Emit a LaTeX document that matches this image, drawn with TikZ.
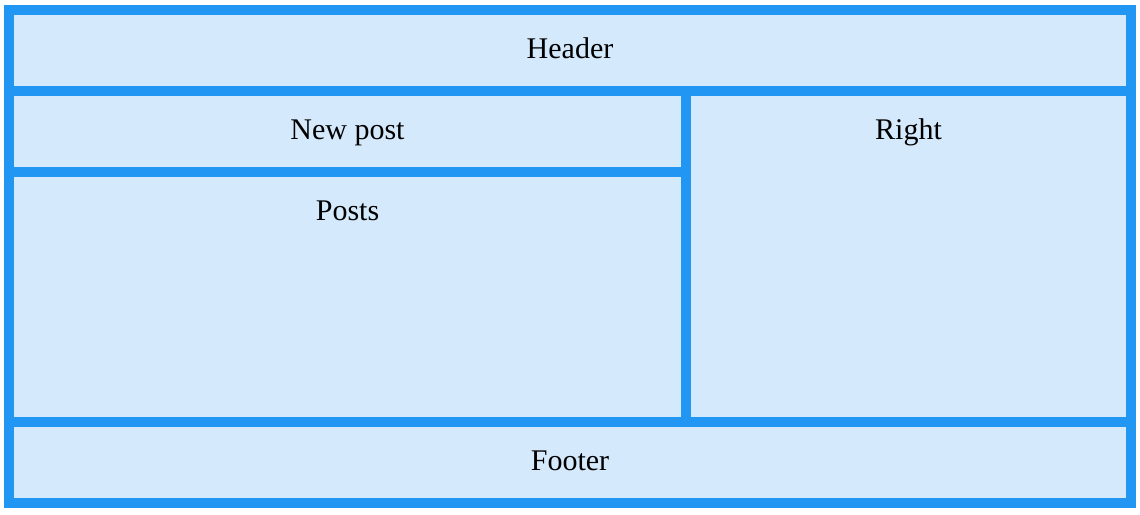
\documentclass[tikz,border=0pt]{standalone}
\usepackage{fontspec}
\setmainfont{Liberation Serif}
\usepackage{xcolor}
\usepackage{tikz}
\usetikzlibrary{positioning}

\definecolor{frameblue}{HTML}{2196F3}
\definecolor{paneblue}{HTML}{D4E9FC}

\begin{document}
\begin{tikzpicture}[
    x=1pt, y=-1pt,
    panel/.style={draw=frameblue, fill=paneblue, line width=10pt, rectangle,
        inner sep=0pt, outer sep=0pt, minimum width=#1},
    title/.style={label={[anchor=base, yshift=-48.5pt, inner sep=0pt,
        font=\fontsize{30}{36}\selectfont]north:#1}}
]
\useasboundingbox (0,0) rectangle (1140,514);

\node (header) [panel=1122pt, minimum height=81pt, title=Header] at (570,50.5) {};
\node (newpost) [panel=677pt, minimum height=81pt, title=New post,
    below right=0pt of header.south west] {};
\node (posts) [panel=677pt, minimum height=250pt, title=Posts,
    below right=0pt of newpost.south west] {};
\node (right) [panel=445pt, minimum height=331pt, title=Right,
    below right=0pt of newpost.north east] {};
\node (footer) [panel=1122pt, minimum height=81pt, title=Footer,
    below right=0pt of posts.south west] {};

\end{tikzpicture}
\end{document}
